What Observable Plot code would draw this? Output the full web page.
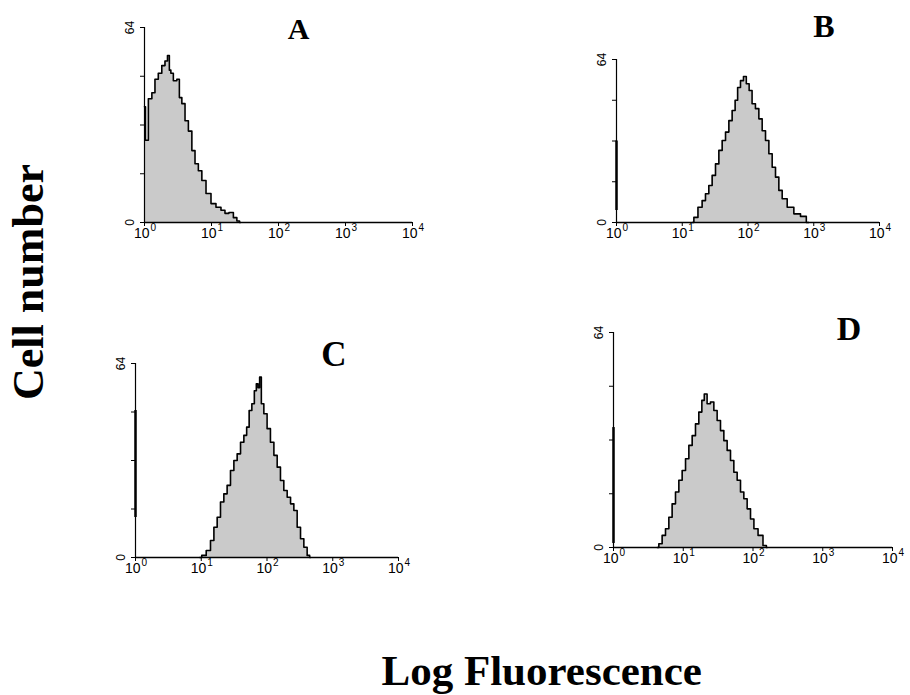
<!DOCTYPE html>
<html><head><meta charset="utf-8">
<script src="https://cdn.jsdelivr.net/npm/d3@7"></script>
<script src="https://cdn.jsdelivr.net/npm/@observablehq/plot@0.6"></script>
<style>
body{margin:0;background:#fff}
#wrap{position:relative;width:910px;height:695px;overflow:hidden;background:#fff}
#wrap svg{position:absolute;left:0;top:0}
</style></head><body><div id="wrap"></div>
<script>
// ---- data ----
const panelLetters = ["A", "B", "C", "D"];
const xTicks = [1, 10, 100, 1000, 10000];
const xTickBase = "10";
const xTickExp = ["0", "1", "2", "3", "4"];
const yTicks = [0, 16, 32, 48, 64];
const yLabelTicks = [0, 64];
const axisTitleY = "Cell number";
const axisTitleX = "Log Fluorescence";

const fluorA = [1.0, 1.07, 1.22, 1.36, 1.51, 1.71, 1.92, 2.13, 2.28, 2.42, 2.53, 2.87, 3.22, 3.41, 3.82, 4.24, 4.81, 5.39, 5.97, 6.78, 7.6, 9.02, 10.7, 12.7, 15.1, 16.7, 19.9, 22.6, 25.3, 27.1];
const countA = [38, 27, 40.6, 42.6, 47, 49, 51.5, 53, 54.8, 50, 49, 46.5, 47, 41, 39, 33.4, 30, 23.6, 19.3, 17, 13.8, 9.5, 6.2, 5, 4, 3, 3.3, 1.6, 0.5, 0];

const fluorB = [14.2, 15.9, 18.9, 21.3, 23.9, 26.9, 30.2, 34.0, 38.2, 42.9, 48.3, 54.2, 60.8, 66.8, 72.4, 81.6, 89.4, 99.3, 109, 122, 138, 155, 174, 196, 220, 247, 278, 312, 351, 443, 560, 706, 841];
const countB = [0, 2, 6, 8.6, 11.3, 14.5, 18.5, 23, 28.3, 32.2, 35.5, 40, 44, 48, 53, 55.7, 57.3, 54.5, 51.8, 46.6, 44.7, 40.7, 36, 32.2, 27, 21.7, 17.8, 12.6, 9.3, 6, 3.4, 2.4, 0];

const fluorC = [9.5, 10.9, 13.0, 14.7, 16.5, 18.5, 20.8, 23.4, 26.2, 29.6, 33.2, 37.3, 42.0, 47.1, 51.1, 56.1, 61.7, 66.8, 71.0, 75.0, 79.6, 84.5, 94.9, 106, 120, 135, 151, 170, 191, 215, 242, 271, 305, 343, 385, 432, 459];
const countC = [0, 0.7, 2.3, 5.6, 10, 13.3, 18.3, 21, 23.8, 28.7, 32, 34.2, 38, 40.3, 43, 48.5, 50.7, 55, 57.3, 56, 59.5, 50.7, 47.4, 42.5, 38, 33.7, 29.8, 25.4, 22.1, 19.9, 17.7, 15.5, 10, 6.2, 3.4, 0.7, 0];

const fluorD = [4.23, 4.72, 5.26, 5.89, 6.56, 7.32, 8.19, 9.13, 10.2, 11.4, 12.7, 14.2, 15.8, 17.7, 19.3, 20.8, 23.2, 26.0, 29.0, 32.3, 36.2, 40.3, 45.0, 50.3, 56.1, 62.6, 70.0, 78.0, 87.1, 97.4, 109, 128, 151, 160];
const countD = [0, 1.1, 3.6, 5.6, 9, 13, 16.5, 20, 22.9, 26.4, 30.4, 33.3, 36.8, 40.3, 43.8, 45.7, 42.8, 43.3, 40.8, 37.8, 34.8, 31.8, 28.9, 25.9, 22.4, 20, 16.5, 14.5, 11.5, 8.5, 5.6, 3.6, 0.6, 0];

// first-channel (x = 10^0) pile-up, [low, high] counts
const spikeA = null;
const spikeB = [4.7, 32];
const spikeC = [13.2, 48.5];
const spikeD = [1.2, 35.7];

// ---- layout (pixel geometry of each panel frame) ----
const W = 910, H = 695;
const layout = [
  {x0: 144, x1: 412, top: 27,  base: 222, letter: {x: 298.7, y: 39,  size: 30}},
  {x0: 616, x1: 879, top: 59,  base: 222, letter: {x: 824,   y: 36.7, size: 32}},
  {x0: 135, x1: 398, top: 363, base: 557, letter: {x: 334,   y: 366, size: 35}},
  {x0: 613, x1: 892, top: 332, base: 547, letter: {x: 849,   y: 340, size: 34}}
];
const series = [
  {fluor: fluorA, count: countA, spike: spikeA},
  {fluor: fluorB, count: countB, spike: spikeB},
  {fluor: fluorC, count: countC, spike: spikeC},
  {fluor: fluorD, count: countD, spike: spikeD}
];

const wrap = document.getElementById("wrap");
const tickRows = xTicks.map((t, k) => ({t, base: xTickBase, exp: xTickExp[k]}));

series.forEach((s, i) => {
  const g = layout[i];
  const data = s.fluor.map((f, j) => ({f, c: s.count[j]}));
  const marks = [
    Plot.areaY(data, {x: "f", y: "c", curve: "step", fill: "#cacaca"}),
    Plot.lineY(data, {x: "f", y: "c", curve: "step", stroke: "#000", strokeWidth: 1.6}),
    Plot.ruleY([0], {stroke: "#000", strokeWidth: 1.5}),
    Plot.ruleX([1], {stroke: "#000", strokeWidth: 1.2}),
    Plot.axisX({ticks: xTicks, tickFormat: () => "", tickSize: 4, label: null}),
    Plot.text(tickRows, {x: "t", text: "base", frameAnchor: "bottom", lineAnchor: "middle", textAnchor: "end", dx: 5, dy: 11, fontSize: 14}),
    Plot.text(tickRows, {x: "t", text: "exp", frameAnchor: "bottom", lineAnchor: "middle", textAnchor: "start", dx: 6, dy: 5, fontSize: 10}),
    Plot.axisY({ticks: yTicks, tickFormat: d => yLabelTicks.includes(d) ? String(d) : "", tickRotate: -90, tickSize: 4, tickPadding: 7, label: null, fontSize: 12})
  ];
  if (s.spike) {
    marks.push(Plot.ruleX([{x: 1, y1: s.spike[0], y2: s.spike[1]}], {x: "x", y1: "y1", y2: "y2", stroke: "#000", strokeWidth: 2.5}));
  }
  const chart = Plot.plot({
    width: W, height: H,
    marginLeft: g.x0, marginRight: W - g.x1, marginTop: g.top, marginBottom: H - g.base,
    style: {background: "none", fontFamily: "'Liberation Sans', Arial, 'DejaVu Sans', sans-serif", color: "#000", overflow: "visible"},
    x: {type: "log", domain: [1, 10000], label: null},
    y: {domain: [0, 64], label: null},
    marks
  });
  wrap.appendChild(chart);
});

// ---- titles ----
const overlay = d3.create("svg").attr("width", W).attr("height", H)
  .style("font-family", "'Liberation Serif', 'Times New Roman', serif")
  .style("font-weight", "bold");
layout.forEach((g, i) => {
  overlay.append("text").attr("x", g.letter.x).attr("y", g.letter.y)
    .attr("text-anchor", "middle").attr("font-size", g.letter.size).text(panelLetters[i]);
});
overlay.append("text").attr("transform", "translate(43,282) rotate(-90)")
  .attr("text-anchor", "middle").attr("font-size", 44).text(axisTitleY);
overlay.append("text").attr("x", 541.7).attr("y", 685)
  .attr("text-anchor", "middle").attr("font-size", 43).text(axisTitleX);
wrap.appendChild(overlay.node());
</script>
</body></html>
